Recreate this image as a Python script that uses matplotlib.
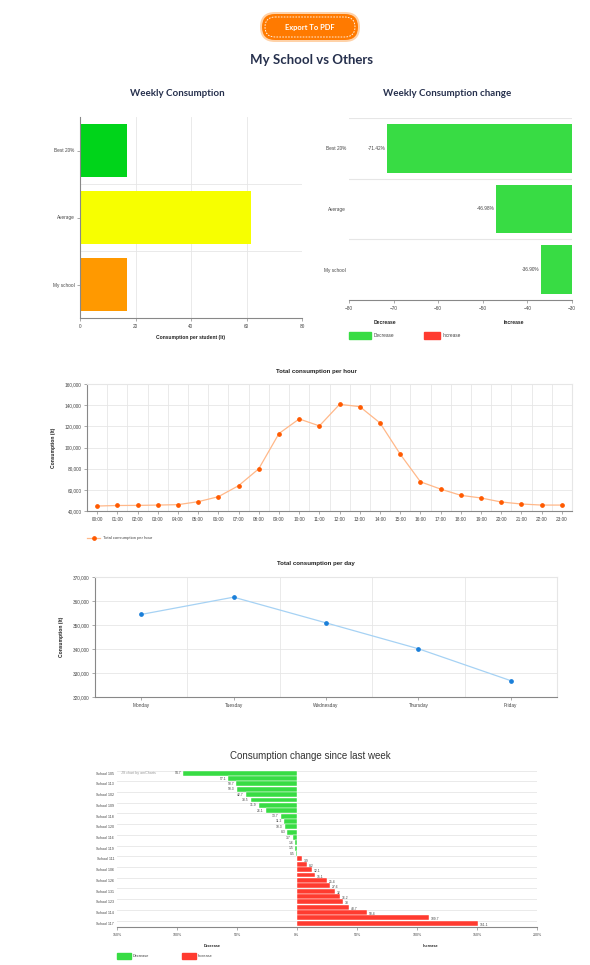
import numpy as np
import matplotlib.pyplot as plt
from matplotlib.patches import FancyBboxPatch, Rectangle
from matplotlib.ticker import FuncFormatter
from matplotlib.lines import Line2D

W, H = 590, 965

# weekly consumption
groups = ['Best 20%', 'Average', 'My school']
weekly = [17.0, 61.5, 17.0]
weekly_colors = ['#00d41a', '#f7ff00', '#ff9900']
weekly_change = [-71.42, -46.98, -36.90]

# per hour
hours = ['%02d:00' % h for h in range(24)]
per_hour = [44700, 45200, 45300, 45600, 46000, 48800, 53500, 63900, 79900, 113200,
            127000, 120400, 140800, 138600, 123200, 93700, 67600, 60700, 54800,
            52300, 48500, 46600, 45600, 45600]

# per day
days = ['Monday', 'Tuesday', 'Wednesday', 'Thursday', 'Friday']
per_day = [354400, 361600, 350900, 340100, 326800]

# change since last week (%)
change = [-94.7, -57.1, -50.7, -50.3, -42.7, -38.5, -31.9, -26.1, -13.7, -11.2,
          -10.3, -8.3, -3.7, -1.6, -1.5, -0.5,
          3.9, 8.2, 12.1, 15.1, 25.4, 27.6, 32, 36.2, 38, 43.7, 58.4, 109.7, 151.1]
school_labels = ['School 105', 'School 113', 'School 102', 'School 109', 'School 118',
                 'School 120', 'School 116', 'School 119', 'School 111', 'School 106',
                 'School 126', 'School 131', 'School 123', 'School 114', 'School 117']

GREEN = '#38dc44'
RED = '#ff3b30'
GRID = '#e6e6e6'
TXT = '#444444'

plt.rcParams['font.family'] = ['Liberation Sans', 'DejaVu Sans']

fig = plt.figure(figsize=(W / 100, H / 100), dpi=100)
fig.patch.set_facecolor('white')


def ax_px(l, t, r, b):
    return fig.add_axes([l / W, 1 - b / H, (r - l) / W, (b - t) / H])


def light(ax, left=True):
    for s in ['top', 'right']:
        ax.spines[s].set_visible(False)
    ax.spines['left'].set_visible(left)
    ax.spines['left'].set_color('#888888')
    ax.spines['bottom'].set_color('#888888')
    ax.spines['left'].set_linewidth(0.8)
    ax.spines['bottom'].set_linewidth(0.8)
    ax.tick_params(labelsize=3.4, colors='#888888', labelcolor=TXT, length=2, width=0.5, pad=2)


# ---- weekly consumption
ax1 = ax_px(80, 117, 302, 318)
y = np.arange(len(groups))
ax1.barh(y, weekly, height=0.8, color=weekly_colors, zorder=2)
ax1.set_xlim(0, 80)
ax1.set_ylim(2.5, -0.5)
ax1.set_xticks([0, 20, 40, 60, 80])
ax1.set_yticks(y)
ax1.set_yticklabels(groups)
ax1.grid(axis='x', color=GRID, lw=0.6, zorder=0)
for b in [0.5, 1.5]:
    ax1.axhline(b, color=GRID, lw=0.6, zorder=0)
light(ax1)
ax1.set_xlabel('Consumption per student (lt)', fontsize=3.6, fontweight='bold', color='#222222', labelpad=5)

# ---- weekly consumption change
ax2 = ax_px(349, 118, 572, 300)
ax2.barh(y, weekly_change, height=0.8, color=GREEN, zorder=2)
ax2.set_xlim(-80, -30)
ax2.set_ylim(2.5, -0.5)
ax2.set_xticks(range(-80, -29, 10))
ax2.set_yticks(y)
ax2.set_yticklabels(groups)
for b in [-0.5, 0.5, 1.5]:
    ax2.axhline(b, color=GRID, lw=0.8, zorder=0)
light(ax2, left=False)
ax2.tick_params(axis='y', length=0)
for yi, v in zip(y, weekly_change):
    ax2.text(v - 0.4, yi, '%.2f%%' % v, ha='right', va='center', fontsize=3.4, color=TXT)

# ---- total consumption per hour
ax3 = ax_px(87, 384, 572, 511)
xh = np.arange(len(hours))
ax3.plot(xh, per_hour, color='#ffb889', lw=0.9, zorder=2)
ax3.plot(xh, per_hour, 'o', color='#ff5a00', ms=2.4, zorder=3)
ax3.set_xlim(-0.5, 23.5)
ax3.set_ylim(40000, 160000)
ax3.set_xticks(xh)
ax3.set_xticklabels(hours)
ax3.set_yticks(range(40000, 160001, 20000))
ax3.yaxis.set_major_formatter(FuncFormatter(lambda v, p: '{:,.0f}'.format(v)))
ax3.set_xticks(np.arange(0.5, 23.6, 1), minor=True)
ax3.grid(which='minor', axis='x', color=GRID, lw=0.6, zorder=0)
ax3.grid(which='major', axis='y', color=GRID, lw=0.6, zorder=0)
ax3.tick_params(which='minor', length=0)
light(ax3)
ax3.spines['top'].set_visible(True)
ax3.spines['right'].set_visible(True)
ax3.spines['top'].set_color(GRID)
ax3.spines['right'].set_color(GRID)
ax3.set_ylabel('Consumption (lt)', fontsize=3.6, fontweight='bold', color='#222222', labelpad=6)

# ---- total consumption per day
ax4 = ax_px(95, 577, 557, 697)
xd = np.arange(len(days))
ax4.plot(xd, per_day, color='#a6d2f4', lw=0.9, zorder=2)
ax4.plot(xd, per_day, 'o', color='#1a7fd9', ms=2.4, zorder=3)
ax4.set_xlim(-0.5, 4.5)
ax4.set_ylim(320000, 370000)
ax4.set_xticks(xd)
ax4.set_xticklabels(days)
ax4.set_yticks(range(320000, 370001, 10000))
ax4.yaxis.set_major_formatter(FuncFormatter(lambda v, p: '{:,.0f}'.format(v)))
ax4.set_xticks(np.arange(0.5, 4.6, 1), minor=True)
ax4.grid(which='minor', axis='x', color=GRID, lw=0.6, zorder=0)
ax4.grid(which='major', axis='y', color=GRID, lw=0.6, zorder=0)
ax4.tick_params(which='minor', length=0)
light(ax4)
ax4.spines['top'].set_visible(True)
ax4.spines['right'].set_visible(True)
ax4.spines['top'].set_color(GRID)
ax4.spines['right'].set_color(GRID)
ax4.set_ylabel('Consumption (lt)', fontsize=3.6, fontweight='bold', color='#222222', labelpad=6)

# ---- change since last week
ax5 = ax_px(117, 770, 537, 927)
yc = np.arange(len(change))
cols = [GREEN if v < 0 else RED for v in change]
ax5.barh(yc, change, height=0.92, color=cols, edgecolor='white', lw=0.3, zorder=2)
ax5.set_xlim(-150, 200)
ax5.set_ylim(28.7, -0.6)
ax5.set_xticks(range(-150, 201, 50))
ax5.xaxis.set_major_formatter(FuncFormatter(lambda v, p: '%d%%' % abs(v)))
ax5.set_yticks(yc[::2])
ax5.set_yticklabels(school_labels)
for b in yc[::2]:
    ax5.axhline(b - 0.5, color=GRID, lw=0.6, zorder=0)
light(ax5, left=False)
ax5.tick_params(axis='y', length=0, labelsize=2.6)
ax5.tick_params(axis='x', labelsize=2.6)
for yi, v in zip(yc, change):
    if v < 0:
        ax5.text(v - 1.5, yi, '%g' % abs(v), ha='right', va='center', fontsize=2.4, color=TXT)
    else:
        ax5.text(v + 1.5, yi + 0.3, '%g' % v, ha='left', va='center', fontsize=2.4, color=TXT)
ax5.text(-147, 0, 'JS chart by amCharts', ha='left', va='center', fontsize=2.6, color='#999999')

# ---- overlay in pixel coordinates: header, titles, legends
ov = fig.add_axes([0, 0, 1, 1])
ov.set_xlim(0, W)
ov.set_ylim(H, 0)
ov.axis('off')

ov.add_patch(FancyBboxPatch((260, 12), 100, 30, boxstyle='round,pad=0,rounding_size=15',
                            fc='#ffd2a8', ec='none'))
ov.add_patch(FancyBboxPatch((262, 14), 96, 26, boxstyle='round,pad=0,rounding_size=13',
                            fc='#ff7a00', ec='none'))
ov.add_patch(FancyBboxPatch((265, 17), 90, 20, boxstyle='round,pad=0,rounding_size=10',
                            fc='none', ec='white', ls=(0, (2, 1.5)), lw=0.6))
ov.text(310, 27.5, 'Export To PDF', ha='center', va='center', fontsize=5.4, fontweight='bold',
        color='white', family=['Lato', 'DejaVu Sans'])
ov.text(311, 60, 'My School vs Others', ha='center', va='center', fontsize=9.5, fontweight='bold',
        color='#26304d', family=['Lato', 'DejaVu Sans'])
ov.text(177, 94, 'Weekly Consumption', ha='center', va='center', fontsize=7, fontweight='bold',
        color='#26304d', family=['Lato', 'DejaVu Sans'])
ov.text(447, 94, 'Weekly Consumption change', ha='center', va='center', fontsize=7, fontweight='bold',
        color='#26304d', family=['Lato', 'DejaVu Sans'])

# chart 2 footer
ov.text(385, 323, 'Decrease', ha='center', va='center', fontsize=3.6, fontweight='bold', color='#222222')
ov.text(514, 323, 'Increase', ha='center', va='center', fontsize=3.6, fontweight='bold', color='#222222')
ov.add_patch(Rectangle((349, 332), 22, 7, color=GREEN))
ov.text(374, 335.5, 'Decrease', ha='left', va='center', fontsize=3.4, color=TXT)
ov.add_patch(Rectangle((424, 332), 16, 7, color=RED))
ov.text(443, 335.5, 'Increase', ha='left', va='center', fontsize=3.4, color=TXT)

# hour chart title and legend
ov.text(316, 371, 'Total consumption per hour', ha='center', va='center', fontsize=4.4, fontweight='bold', color='#222222')
ov.add_line(Line2D([87, 100], [538, 538], color='#ffb889', lw=0.9))
ov.plot([93.5], [538], 'o', color='#ff5a00', ms=2.4)
ov.text(103, 538, 'Total consumption per hour', ha='left', va='center', fontsize=3.0, color=TXT)

# day chart title
ov.text(316, 563, 'Total consumption per day', ha='center', va='center', fontsize=4.4, fontweight='bold', color='#222222')

# change chart title, axis labels and legend
ov.text(310, 756, 'Consumption change since last week', ha='center', va='center', fontsize=7, color='#333333')
ov.text(212, 946, 'Decrease', ha='center', va='center', fontsize=2.8, fontweight='bold', color='#222222')
ov.text(431, 946, 'Increase', ha='center', va='center', fontsize=2.8, fontweight='bold', color='#222222')
ov.add_patch(Rectangle((117, 953), 14, 6, color=GREEN))
ov.text(133, 956, 'Decrease', ha='left', va='center', fontsize=2.8, color=TXT)
ov.add_patch(Rectangle((182, 953), 14, 6, color=RED))
ov.text(198, 956, 'Increase', ha='left', va='center', fontsize=2.8, color=TXT)

fig.savefig('out.png', dpi=100)
